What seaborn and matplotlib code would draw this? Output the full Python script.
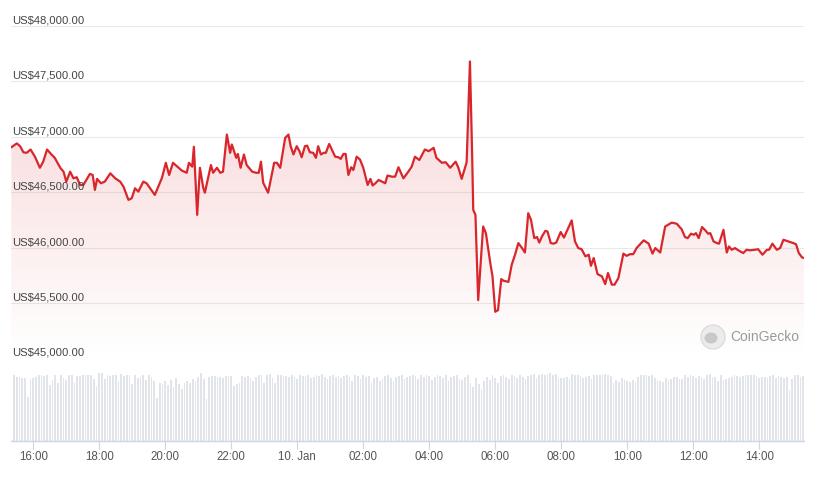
import numpy as np
import matplotlib
matplotlib.use("Agg")
import matplotlib.pyplot as plt
import seaborn as sns
from matplotlib.colors import LinearSegmentedColormap
from matplotlib.patches import PathPatch, Ellipse

# price samples: minutes after 15:20 (9 Jan) and price in USD
price_minutes = [0, 10, 16, 22, 28, 35, 43, 52, 58, 65, 73, 79, 89, 95, 100, 107, 113, 119, 125, 131,
                 143, 148, 152, 156, 163, 170, 180, 189, 198, 204, 213, 219, 225, 231, 240, 246, 261,
                 274, 281, 287, 294, 310, 319, 323, 329, 332, 338, 343, 349, 352, 363, 367, 374, 380,
                 385, 392, 398, 401, 409, 412, 417, 423, 428, 438, 445, 450, 454, 458, 467, 478, 483,
                 489, 498, 504, 508, 513, 519, 524, 528, 534, 538, 543, 549, 554, 558, 563, 568, 572,
                 578, 589, 595, 599, 604, 608, 613, 618, 622, 628, 634, 640, 648, 653, 657, 662, 668,
                 674, 680, 684, 692, 698, 704, 713, 722, 728, 734, 742, 752, 759, 768, 773, 783, 790,
                 798, 808, 813, 819, 828, 834, 838, 840, 844, 849, 858, 863, 871, 875, 880, 885, 891,
                 895, 904, 910, 916, 922, 928, 934, 940, 945, 951, 956, 960, 965, 971, 975, 981, 986,
                 991, 999, 1005, 1019, 1025, 1031, 1037, 1044, 1050, 1054, 1059, 1066, 1074, 1080,
                 1085, 1092, 1097, 1104, 1113, 1119, 1125, 1131, 1137, 1150, 1159, 1166, 1171, 1180,
                 1189, 1201, 1210, 1219, 1225, 1230, 1236, 1241, 1245, 1250, 1256, 1262, 1267, 1271,
                 1277, 1283, 1287, 1295, 1301, 1305, 1310, 1316, 1322, 1331, 1337, 1343, 1352, 1358,
                 1366, 1374, 1378, 1384, 1392, 1398, 1404, 1413, 1422, 1427, 1432, 1438, 1442]
price_usd = [46905, 46940, 46915, 46860, 46855, 46885, 46820, 46720, 46775, 46885, 46840, 46810, 46720,
             46685, 46595, 46685, 46625, 46635, 46565, 46565, 46665, 46655, 46520, 46620, 46580, 46595,
             46670, 46625, 46595, 46550, 46430, 46445, 46535, 46505, 46595, 46580, 46475, 46630, 46765,
             46655, 46765, 46695, 46675, 46765, 46730, 46910, 46295, 46720, 46540, 46495, 46745, 46675,
             46720, 46675, 46685, 47020, 46855, 46930, 46810, 46845, 46720, 46840, 46745, 46685, 46675,
             46675, 46775, 46585, 46495, 46765, 46765, 46720, 46990, 47020, 46915, 46840, 46915, 46870,
             46815, 46915, 46920, 46860, 46855, 46810, 46915, 46840, 46855, 46855, 46935, 46820, 46815,
             46800, 46845, 46845, 46655, 46725, 46700, 46820, 46795, 46720, 46565, 46620, 46560, 46580,
             46610, 46595, 46580, 46650, 46640, 46640, 46725, 46625, 46685, 46730, 46820, 46790, 46885,
             46870, 46900, 46810, 46765, 46770, 46720, 46775, 46720, 46620, 46770, 47680, 46840, 46340,
             46295, 45525, 46190, 46130, 45860, 45740, 45420, 45435, 45715, 45700, 45690, 45845, 45935,
             46040, 46000, 45955, 46310, 46250, 46085, 46095, 46045, 46100, 46150, 46145, 46040, 46035,
             46045, 46140, 46090, 46245, 46055, 45995, 45985, 45920, 45935, 45835, 45905, 45760, 45740,
             45670, 45770, 45665, 45665, 45725, 45945, 45925, 45940, 45940, 45995, 46065, 46035, 45945,
             45995, 45955, 46190, 46225, 46215, 46165, 46095, 46085, 46125, 46115, 46130, 46085, 46185,
             46155, 46125, 46130, 46055, 46040, 46035, 46160, 45955, 46010, 45980, 45995, 45975, 45950,
             45980, 45975, 45980, 45985, 45935, 45980, 45980, 46035, 45980, 45995, 46070, 46055, 46040,
             46030, 45950, 45910, 45905]

# 5-minute volume (relative units), one bar per slot from 15:25 to 15:20
volume = [66, 64, 64, 63, 63, 44, 62, 63, 64, 66, 66, 65, 66, 56, 61, 66, 58, 66, 63, 61, 66, 66, 58, 65,
          65, 66, 66, 66, 66, 62, 55, 68, 68, 62, 66, 65, 66, 66, 60, 67, 65, 66, 66, 57, 66, 63, 64, 66,
          61, 66, 64, 60, 43, 58, 57, 60, 56, 61, 54, 63, 57, 52, 58, 60, 58, 62, 60, 64, 68, 62, 42, 64,
          65, 65, 64, 64, 63, 65, 65, 65, 55, 57, 58, 65, 64, 65, 63, 60, 64, 66, 66, 58, 66, 67, 63, 58,
          66, 66, 65, 65, 64, 66, 64, 62, 66, 65, 65, 66, 63, 64, 66, 65, 67, 64, 62, 65, 66, 64, 65, 63,
          65, 66, 64, 60, 66, 65, 62, 66, 64, 65, 58, 63, 64, 60, 62, 65, 66, 63, 60, 64, 65, 66, 62, 64,
          65, 66, 65, 62, 66, 64, 66, 65, 61, 64, 66, 65, 63, 66, 60, 64, 65, 66, 62, 61, 64, 66, 58, 54,
          63, 57, 52, 60, 64, 61, 66, 63, 58, 65, 66, 64, 62, 66, 65, 63, 66, 64, 62, 65, 66, 67, 63, 66,
          67, 66, 67, 68, 66, 67, 63, 63, 63, 64, 62, 67, 66, 66, 65, 63, 64, 65, 62, 66, 66, 66, 66, 67,
          66, 65, 58, 61, 59, 63, 61, 60, 59, 61, 59, 64, 66, 66, 66, 65, 66, 63, 61, 60, 59, 63, 61, 62,
          64, 64, 62, 62, 66, 64, 66, 65, 63, 65, 64, 62, 66, 67, 64, 64, 60, 66, 61, 62, 63, 64, 66, 65,
          64, 65, 66, 66, 66, 66, 65, 63, 64, 64, 63, 65, 66, 63, 65, 64, 63, 64, 51, 62, 66, 66, 64, 65]
volume_minutes = list(range(5, 5 * len(volume) + 5, 5))

tick_minutes = [40, 160, 280, 400, 520, 640, 760, 880, 1000, 1120, 1240, 1360]
tick_labels = ["16:00", "18:00", "20:00", "22:00", "10. Jan", "02:00", "04:00",
               "06:00", "08:00", "10:00", "12:00", "14:00"]
price_ticks = [45000, 45500, 46000, 46500, 47000, 47500, 48000]

LINE = "#d9262c"
W, H = 823, 479

sns.set_theme(style="white")
plt.rcParams['font.family'] = ['Liberation Sans', 'DejaVu Sans']


def box(left, top, right, bottom):
    return [left / W, 1 - bottom / H, (right - left) / W, (bottom - top) / H]


fig = plt.figure(figsize=(W / 100, H / 100), dpi=100)
ax = fig.add_axes(box(11.3, 26, 804.3, 358.3))
axv = fig.add_axes(box(11.3, 363, 804.3, 441))

xmax = 1442

# price panel
for p in price_ticks:
    ax.axhline(p, color="#e9e9e9", lw=0.8, zorder=0)
    ax.annotate(f"US${p:,.2f}", xy=(0, p), xytext=(0.5, 1.8), textcoords="offset points",
                ha="left", va="baseline", fontsize=8.1, color="#444444", zorder=5)

cmap = LinearSegmentedColormap.from_list(
    "fade", [(0.85, 0.15, 0.17, 0.0), (0.85, 0.15, 0.17, 0.22)])
grad = np.linspace(0, 1, 256).reshape(-1, 1)
im = ax.imshow(grad, extent=[0, xmax, 45000, 48000], origin="lower", aspect="auto",
               cmap=cmap, zorder=1)
area = ax.fill_between(price_minutes, price_usd, 45000, color="none", lw=0)
clip = PathPatch(area.get_paths()[0], transform=ax.transData, facecolor="none", edgecolor="none")
ax.add_patch(clip)
im.set_clip_path(clip)

sns.lineplot(x=price_minutes, y=price_usd, ax=ax, color=LINE, lw=1.6, zorder=3)
ax.set_xlim(0, xmax)
ax.set_ylim(45000, 48000)
ax.set_axis_off()

# volume panel
sns.barplot(x=volume_minutes, y=volume, ax=axv, native_scale=True, width=0.62,
            color="#e1e4e9", saturation=1, errorbar=None, linewidth=0)
axv.set_xlim(0, xmax)
axv.set_ylim(0, 78)
for s in ["top", "left", "right"]:
    axv.spines[s].set_visible(False)
axv.spines["bottom"].set_color("#ccd6eb")
axv.spines["bottom"].set_linewidth(1)
axv.set_yticks([])
axv.set_xticks(tick_minutes)
axv.set_xticklabels(tick_labels)
axv.tick_params(axis="x", direction="out", length=5.5, width=0.8, color="#ccd6eb",
                labelsize=8.3, labelcolor="#555555", pad=1.5, bottom=True)
axv.set_xlabel("")
axv.set_ylabel("")
axv.set_facecolor("none")

# watermark
fig.add_artist(Ellipse((713 / W, 1 - 337 / H), 24 / W, 24 / H, transform=fig.transFigure,
                       facecolor="#ececec", edgecolor="#dcdcdc", lw=1))
fig.add_artist(Ellipse((711 / W, 1 - 338 / H), 13 / W, 11 / H, transform=fig.transFigure,
                       facecolor="#c8c8c8", edgecolor="none"))
fig.text(730 / W, 1 - 337 / H, "CoinGecko", fontsize=10, color="#9a9a9a", va="center", ha="left")

fig.savefig("out.png", dpi=100, facecolor="white")
